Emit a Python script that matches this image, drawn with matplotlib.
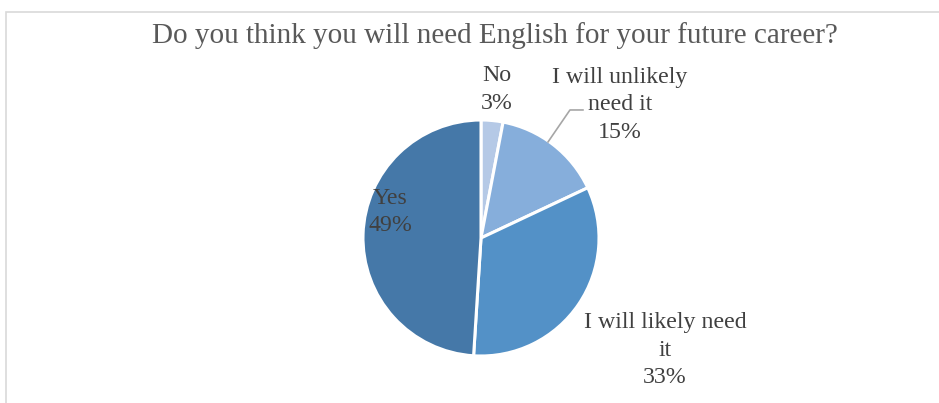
import matplotlib.pyplot as plt
from matplotlib.patches import Rectangle

labels = ["No", "I will unlikely\nneed it", "I will likely need\nit", "Yes"]
shares = [3, 15, 33, 49]
colors = ["#b5c9e6", "#86aedb", "#5391c7", "#4578a8"]

# label spots in pie-radius units, relative to the pie centre
label_pos = [(0.136, 1.26), (1.178, 1.13), (1.56, -0.95), (-0.771, 0.22)]

plt.rcParams["font.family"] = ["Liberation Serif", "DejaVu Serif"]

fig = plt.figure(figsize=(9.39, 4.03), dpi=100)
W, H = 939, 403
cx, cy, r = 481, 238, 118

# light frame around the chart area
fig.patches.append(Rectangle((6 / W, -0.2), 1.2, (H - 12) / H + 0.2,
                             transform=fig.transFigure, fill=False,
                             edgecolor="#d9d9d9", linewidth=1.2))

fig.text(495 / W, 1 - 36 / H, "Do you think you will need English for your future career?",
         ha="center", va="center", fontsize=21, color="#595959")

ax = fig.add_axes([(cx - r) / W, (H - cy - r) / H, 2 * r / W, 2 * r / H])
ax.pie(shares, colors=colors, startangle=90, counterclock=False, radius=1,
       wedgeprops=dict(edgecolor="white", linewidth=2.2))
ax.set_xlim(-1, 1)
ax.set_ylim(-1, 1)
ax.set_aspect("auto")
ax.axis("off")

for lab, val, (x, y) in zip(labels, shares, label_pos):
    ax.text(x, y, f"{lab}\n{val}%", ha="center", va="center", fontsize=17.2,
            color="#404040", linespacing=1.4)

# leader line for the small "unlikely" slice
ax.plot([0.568, 0.754, 0.864], [0.814, 1.085, 1.085], color="#a6a6a6",
        linewidth=1.2, clip_on=False)

fig.savefig("out.png", dpi=100)
